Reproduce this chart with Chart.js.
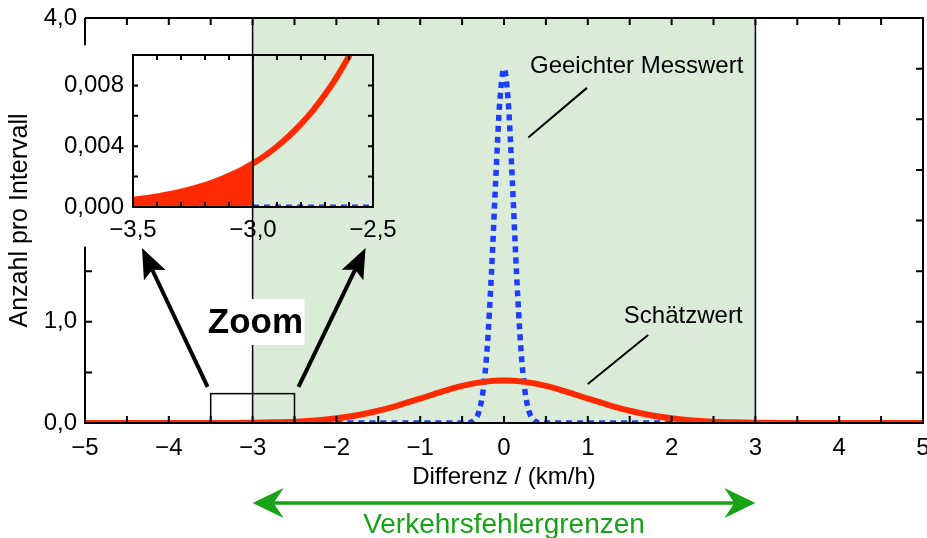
<!DOCTYPE html>
<html>
<head>
<meta charset="utf-8">
<script src="https://cdn.jsdelivr.net/npm/chart.js@4.4.1/dist/chart.umd.min.js"></script>
<style>
  html, body { margin: 0; padding: 0; background: #fff; }
  #wrap { position: relative; width: 927px; height: 538px; }
  #mainChart { position: absolute; left: 0; top: 0; }
  #zoomChart { position: absolute; left: 0; top: 40px; }
</style>
</head>
<body>
<div id="wrap">
  <canvas id="mainChart" width="927" height="538"></canvas>
  <canvas id="zoomChart" width="400" height="210"></canvas>
</div>
<script>
// tick labels
const xTickValues = [-5, -4, -3, -2, -1, 0, 1, 2, 3, 4, 5];
const xTickLabels = ['−5', '−4', '−3', '−2', '−1', '0', '1', '2', '3', '4', '5'];
const yTickValues = [0, 1, 4];
const yTickLabels = ['0,0', '1,0', '4,0'];

const zoomXTickValues = [-3.5, -3, -2.5];
const zoomXTickLabels = ['−3,5', '−3,0', '−2,5'];
const zoomYTickValues = [0, 0.004, 0.008];
const zoomYTickLabels = ['0,000', '0,004', '0,008'];

// Schätzwert (rote Kurve)
const schaetzX = [-5, -4.75, -4.5, -4.25, -4, -3.75, -3.5, -3.25, -3, -2.75, -2.5, -2.25, -2, -1.75, -1.5, -1.25, -1, -0.75, -0.5, -0.25,
  0, 0.25, 0.5, 0.75, 1, 1.25, 1.5, 1.75, 2, 2.25, 2.5, 2.75, 3, 3.25, 3.5, 3.75, 4, 4.25, 4.5, 4.75, 5];
const schaetzY = [0, 0, 0, 0, 0.0001, 0.0002, 0.0005, 0.0012, 0.0029, 0.0064, 0.013, 0.025, 0.046, 0.077, 0.121, 0.177, 0.241, 0.308, 0.366, 0.406,
  0.420, 0.406, 0.366, 0.308, 0.241, 0.177, 0.121, 0.077, 0.046, 0.025, 0.013, 0.0064, 0.0029, 0.0012, 0.0005, 0.0002, 0.0001, 0, 0, 0, 0];

// Geeichter Messwert (blaue Kurve)
const messX = [-2, -1.5, -1, -0.5, -0.45, -0.4, -0.35, -0.3, -0.25, -0.2, -0.15, -0.1, -0.05,
  0, 0.05, 0.1, 0.15, 0.2, 0.25, 0.3, 0.35, 0.4, 0.45, 0.5, 1, 1.5, 2];
const messY = [0, 0, 0, 0, 0.002, 0.007, 0.032, 0.110, 0.316, 0.751, 1.473, 2.382, 3.179,
  3.500, 3.179, 2.382, 1.473, 0.751, 0.316, 0.110, 0.032, 0.007, 0.002, 0, 0, 0, 0];

// Zoom-Ausschnitt
const zoomRedX = [-3.5, -3.45, -3.4, -3.35, -3.3, -3.25, -3.2, -3.15, -3.1, -3.05, -3.0,
  -2.95, -2.9, -2.85, -2.8, -2.75, -2.7, -2.65, -2.6, -2.55, -2.5];
const zoomRedY = [0.00047, 0.00058, 0.00069, 0.00084, 0.00101, 0.00121, 0.00144, 0.00172, 0.00205, 0.00243, 0.00287,
  0.00338, 0.00398, 0.00467, 0.00546, 0.00636, 0.00740, 0.00858, 0.00993, 0.01145, 0.01315];
const zoomBlueX = [-3.0, -2.5];
const zoomBlueY = [0, 0];

const RED = '#ff2a00';
const BLUE = '#1f3dff';
const GREEN_BG = '#daecd8';
const GREEN = '#16a316';
const FONT = '"Liberation Sans", Arial, Helvetica, sans-serif';

const pts = (xs, ys) => xs.map((x, i) => ({ x: x, y: ys[i] }));

function barbArrow(ctx, x0, y0, x1, y1, len, half, notch, color, width) {
  const a = Math.atan2(y1 - y0, x1 - x0);
  const c = Math.cos(a), s = Math.sin(a);
  ctx.strokeStyle = color;
  ctx.fillStyle = color;
  ctx.lineWidth = width;
  ctx.beginPath();
  ctx.moveTo(x0, y0);
  ctx.lineTo(x1 - c * notch, y1 - s * notch);
  ctx.stroke();
  ctx.beginPath();
  ctx.moveTo(x1, y1);
  ctx.lineTo(x1 - c * len - s * half, y1 - s * len + c * half);
  ctx.lineTo(x1 - c * notch, y1 - s * notch);
  ctx.lineTo(x1 - c * len + s * half, y1 - s * len - c * half);
  ctx.closePath();
  ctx.fill();
}

const mainDeco = {
  id: 'mainDeco',
  beforeDatasetsDraw(chart) {
    const { ctx, chartArea: a, scales: { x } } = chart;
    ctx.save();
    ctx.fillStyle = GREEN_BG;
    const l = x.getPixelForValue(-3), r = x.getPixelForValue(3);
    ctx.fillRect(l, a.top, r - l, a.bottom - a.top);
    ctx.restore();
  },
  afterDatasetsDraw(chart) {
    const { ctx, chartArea: a, scales: { x, y } } = chart;
    const X = v => x.getPixelForValue(v), Y = v => y.getPixelForValue(v);
    ctx.save();
    ctx.lineCap = 'butt';

    // Grenzlinien bei -3 und 3
    ctx.strokeStyle = '#000';
    ctx.lineWidth = 1.5;
    [-3, 3].forEach(v => {
      ctx.beginPath(); ctx.moveTo(X(v), a.top); ctx.lineTo(X(v), a.bottom); ctx.stroke();
    });

    // Rahmen
    ctx.lineWidth = 2;
    ctx.beginPath();
    ctx.moveTo(a.left, a.top); ctx.lineTo(a.right, a.top);
    ctx.lineTo(a.right, a.bottom); ctx.lineTo(a.left, a.bottom);
    ctx.lineTo(a.left, Y(1.74));
    ctx.moveTo(a.left, Y(3.73)); ctx.lineTo(a.left, a.top);
    ctx.stroke();

    // Teilstriche nach innen
    const tl = 7;
    ctx.beginPath();
    for (let v = -4.5; v < 5; v += 0.5) {
      ctx.moveTo(X(v), a.bottom); ctx.lineTo(X(v), a.bottom - tl);
      ctx.moveTo(X(v), a.top); ctx.lineTo(X(v), a.top + tl);
    }
    for (let v = 0.5; v < 4; v += 0.5) {
      if (v < 1.74) { ctx.moveTo(a.left, Y(v)); ctx.lineTo(a.left + tl, Y(v)); }
      ctx.moveTo(a.right, Y(v)); ctx.lineTo(a.right - tl, Y(v));
    }
    ctx.stroke();

    // Zoom-Rechteck
    ctx.lineWidth = 1.5;
    ctx.strokeRect(X(-3.5), Y(0.29), X(-2.5) - X(-3.5), Y(0) - Y(0.29));

    // Pfeile zum Ausschnitt
    barbArrow(ctx, X(-3.537), Y(0.356), X(-4.32), Y(1.728), 30, 12, 24, '#000', 4);
    barbArrow(ctx, X(-2.452), Y(0.356), X(-1.652), Y(1.728), 30, 12, 24, '#000', 4);

    // "Zoom"
    const zx = X(-2.966), zy = Y(0.998);
    ctx.fillStyle = '#fff';
    ctx.fillRect(zx - 49, zy - 23, 98, 46);
    ctx.fillStyle = '#000';
    ctx.font = 'bold 35px ' + FONT;
    ctx.textAlign = 'center';
    ctx.textBaseline = 'middle';
    ctx.fillText('Zoom', zx, zy + 1);

    // Beschriftungen mit Hinweislinien
    ctx.lineWidth = 2;
    ctx.beginPath();
    ctx.moveTo(X(0.29), Y(2.82)); ctx.lineTo(X(0.99), Y(3.31));
    ctx.moveTo(X(1.00), Y(0.385)); ctx.lineTo(X(1.72), Y(0.87));
    ctx.stroke();
    ctx.font = '24px ' + FONT;
    ctx.textAlign = 'left';
    ctx.fillText('Geeichter Messwert', X(0.31), Y(3.52));
    ctx.fillText('Schätzwert', X(1.43), Y(1.05));
    ctx.restore();
  },
  afterDraw(chart) {
    const { ctx, scales: { x } } = chart;
    ctx.save();
    const l = x.getPixelForValue(-3), r = x.getPixelForValue(3), ay = 503;
    barbArrow(ctx, (l + r) / 2, ay, l, ay, 31, 15, 21, GREEN, 3.5);
    barbArrow(ctx, (l + r) / 2, ay, r, ay, 31, 15, 21, GREEN, 3.5);
    ctx.fillStyle = GREEN;
    ctx.font = '28px ' + FONT;
    ctx.textAlign = 'center';
    ctx.textBaseline = 'alphabetic';
    ctx.fillText('Verkehrsfehlergrenzen', x.getPixelForValue(0), 533);
    ctx.restore();
  }
};

new Chart(document.getElementById('mainChart'), {
  type: 'line',
  data: {
    datasets: [
      {
        label: 'Schätzwert',
        data: pts(schaetzX, schaetzY),
        borderColor: RED,
        borderWidth: 6,
        pointRadius: 0,
        cubicInterpolationMode: 'monotone',
        clip: 0,
        order: 0
      },
      {
        label: 'Geeichter Messwert',
        data: pts(messX, messY),
        borderColor: BLUE,
        borderWidth: 5.5,
        borderDash: [6, 5],
        pointRadius: 0,
        cubicInterpolationMode: 'monotone',
        clip: 0,
        order: 1
      }
    ]
  },
  options: {
    responsive: false,
    animation: false,
    events: [],
    layout: { padding: { left: 0, right: 4, top: 18, bottom: 0 } },
    plugins: { legend: { display: false }, tooltip: { enabled: false } },
    scales: {
      x: {
        type: 'linear',
        min: -5,
        max: 5,
        grid: { display: false },
        border: { display: false },
        afterBuildTicks: s => { s.ticks = xTickValues.map(v => ({ value: v })); },
        afterFit: s => { s.height = 115; s.paddingLeft = 0; s.paddingRight = 0; },
        ticks: {
          autoSkip: false,
          maxRotation: 0,
          padding: 3,
          color: '#000',
          font: { family: FONT, size: 24 },
          callback: v => xTickLabels[xTickValues.indexOf(v)]
        },
        title: {
          display: true,
          text: 'Differenz / (km/h)',
          color: '#000',
          font: { family: FONT, size: 24 },
          padding: { top: 0, bottom: 46 }
        }
      },
      y: {
        type: 'linear',
        min: 0,
        max: 4,
        grid: { display: false },
        border: { display: false },
        afterBuildTicks: s => { s.ticks = yTickValues.map(v => ({ value: v })); },
        afterFit: s => { s.width = 85; s.paddingTop = 0; s.paddingBottom = 0; },
        ticks: {
          padding: 0,
          color: '#000',
          font: { family: FONT, size: 24 },
          callback: v => yTickLabels[yTickValues.indexOf(v)]
        },
        title: {
          display: true,
          text: 'Anzahl pro Intervall',
          color: '#000',
          font: { family: FONT, size: 25 },
          padding: { top: 5, bottom: 0 }
        }
      }
    }
  },
  plugins: [mainDeco]
});

const zoomDeco = {
  id: 'zoomDeco',
  afterDatasetsDraw(chart) {
    const { ctx, chartArea: a, scales: { x, y } } = chart;
    const X = v => x.getPixelForValue(v), Y = v => y.getPixelForValue(v);
    ctx.save();
    ctx.strokeStyle = '#000';
    ctx.lineWidth = 1.5;
    ctx.beginPath(); ctx.moveTo(X(-3), a.top); ctx.lineTo(X(-3), a.bottom); ctx.stroke();
    ctx.lineWidth = 2;
    ctx.strokeRect(a.left, a.top, a.right - a.left, a.bottom - a.top);
    const tl = 5;
    ctx.beginPath();
    for (let i = 1; i < 10; i++) {
      const v = -3.5 + i * 0.1;
      ctx.moveTo(X(v), a.bottom); ctx.lineTo(X(v), a.bottom - tl);
      ctx.moveTo(X(v), a.top); ctx.lineTo(X(v), a.top + tl);
    }
    for (let i = 1; i < 5; i++) {
      const v = i * 0.002;
      ctx.moveTo(a.left, Y(v)); ctx.lineTo(a.left + tl, Y(v));
      ctx.moveTo(a.right, Y(v)); ctx.lineTo(a.right - tl, Y(v));
    }
    ctx.stroke();
    ctx.restore();
  }
};

new Chart(document.getElementById('zoomChart'), {
  type: 'line',
  data: {
    datasets: [
      {
        label: 'Schätzwert',
        data: pts(zoomRedX, zoomRedY),
        borderColor: RED,
        borderWidth: 6,
        pointRadius: 0,
        cubicInterpolationMode: 'monotone',
        clip: 0,
        order: 0
      },
      {
        label: 'Fläche',
        data: pts(zoomRedX.slice(0, 11), zoomRedY.slice(0, 11)),
        borderWidth: 0,
        backgroundColor: RED,
        fill: 'origin',
        pointRadius: 0,
        cubicInterpolationMode: 'monotone',
        clip: 0,
        order: 1
      },
      {
        label: 'Geeichter Messwert',
        data: pts(zoomBlueX, zoomBlueY),
        borderColor: BLUE,
        borderWidth: 5,
        borderDash: [6, 5],
        pointRadius: 0,
        clip: 0,
        order: 2
      }
    ]
  },
  options: {
    responsive: false,
    animation: false,
    events: [],
    layout: { padding: { left: 0, right: 27, top: 15, bottom: 0 } },
    plugins: { legend: { display: false }, tooltip: { enabled: false } },
    scales: {
      x: {
        type: 'linear',
        min: -3.5,
        max: -2.5,
        grid: { display: false },
        border: { display: false },
        afterBuildTicks: s => { s.ticks = zoomXTickValues.map(v => ({ value: v })); },
        afterFit: s => { s.height = 43; s.paddingLeft = 0; s.paddingRight = 0; },
        ticks: {
          autoSkip: false,
          maxRotation: 0,
          padding: 1,
          color: '#000',
          font: { family: FONT, size: 24 },
          callback: v => zoomXTickLabels[zoomXTickValues.indexOf(v)]
        }
      },
      y: {
        type: 'linear',
        min: 0,
        max: 0.010,
        grid: { display: false },
        border: { display: false },
        afterBuildTicks: s => { s.ticks = zoomYTickValues.map(v => ({ value: v })); },
        afterFit: s => { s.width = 133; s.paddingTop = 0; s.paddingBottom = 0; },
        ticks: {
          padding: 1,
          color: '#000',
          font: { family: FONT, size: 24 },
          callback: v => zoomYTickLabels[zoomYTickValues.indexOf(v)]
        }
      }
    }
  },
  plugins: [zoomDeco]
});
</script>
</body>
</html>
